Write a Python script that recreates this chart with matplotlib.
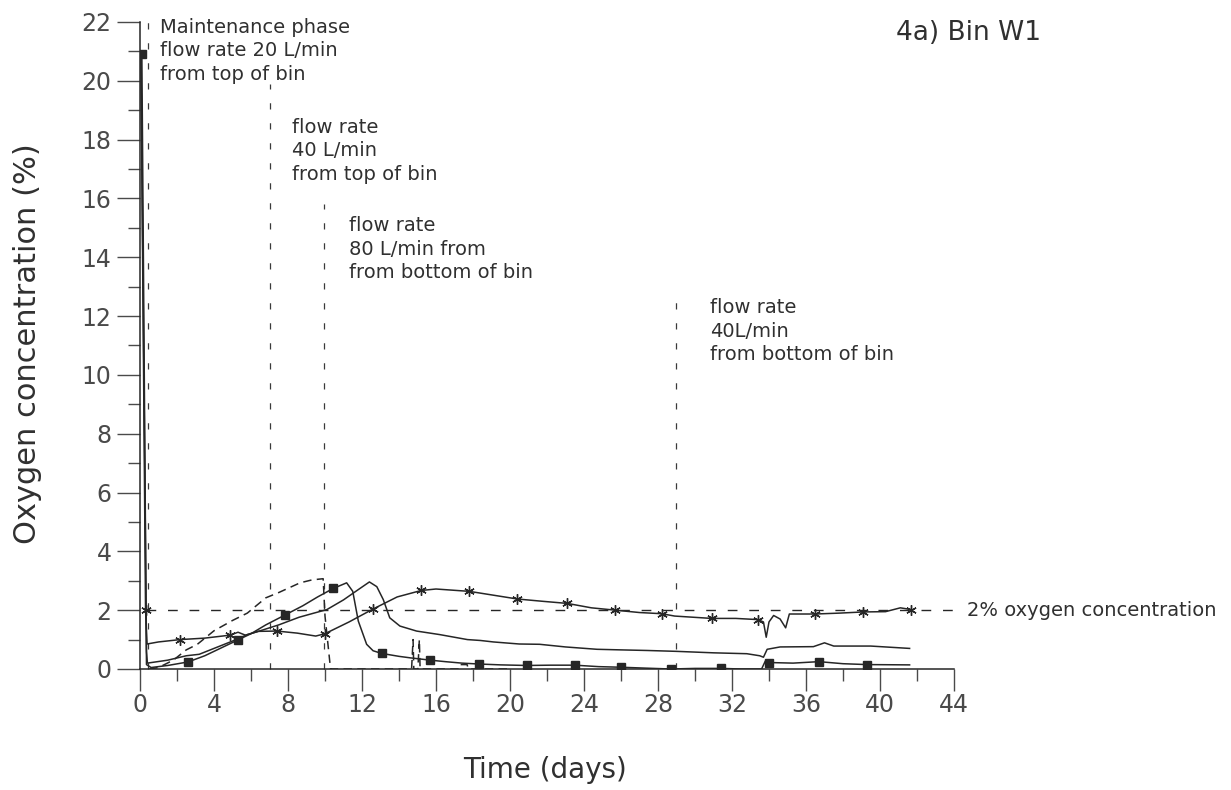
import numpy as np
import matplotlib
matplotlib.use("Agg")
import matplotlib.pyplot as plt

plt.rcParams['font.family'] = ['DejaVu Sans']

# ---------------- data ----------------
# Series with asterisk markers
ast_days = [0.05, 0.30, 0.38, 1.0, 2.17, 3.5, 4.86, 5.3, 5.7, 6.4, 7.4, 8.5, 9.5, 10.0,
            11.3, 12.6, 13.9, 15.2, 16.0, 17.8, 19.0, 20.4, 21.8, 23.1, 24.4, 25.7,
            27.0, 28.2, 28.9, 30.9, 32.2, 33.4, 33.7, 33.85, 34.0, 34.25, 34.6, 34.9,
            35.1, 36.5, 37.8, 39.1, 40.3, 41.1, 41.7]
ast_vals = [20.9, 2.0, 0.85, 0.92, 1.0, 1.05, 1.15, 1.25, 1.15, 1.28, 1.29, 1.22, 1.12, 1.2,
            1.6, 2.04, 2.45, 2.67, 2.72, 2.64, 2.52, 2.38, 2.30, 2.23, 2.08, 2.0,
            1.92, 1.88, 1.80, 1.72, 1.72, 1.68, 1.60, 1.08, 1.60, 1.82, 1.70, 1.40,
            1.87, 1.87, 1.90, 1.94, 1.95, 2.08, 2.02]
ast_marks = [0.30, 2.17, 4.86, 7.4, 10.0, 12.6, 15.2, 17.8, 20.4, 23.1, 25.7, 28.2,
             30.9, 33.4, 36.5, 39.1, 41.7]

# Series with square markers
sq_days = [0.10, 0.35, 0.6, 1.5, 2.6, 3.5, 4.5, 5.3, 6.0, 6.8, 7.85, 8.8, 9.6, 10.45,
           11.17, 11.5, 11.8, 12.25, 12.6, 13.06, 14.0, 14.6, 15.7, 16.5, 17.4, 18.3,
           19.5, 20.9, 22.2, 23.5, 24.8, 26.0, 27.3, 28.7, 30.0, 31.4, 32.5, 33.6,
           33.8, 34.0, 35.3, 36.7, 38.0, 39.3, 41.6]
sq_vals = [20.9, 0.15, 0.05, 0.12, 0.24, 0.45, 0.75, 0.99, 1.2, 1.5, 1.84, 2.15, 2.45, 2.74,
           2.93, 2.64, 1.63, 0.84, 0.62, 0.53, 0.43, 0.38, 0.30, 0.25, 0.20, 0.17,
           0.14, 0.12, 0.13, 0.13, 0.08, 0.06, 0.03, 0.0, 0.02, 0.02, 0.0, 0.0,
           0.27, 0.22, 0.20, 0.25, 0.18, 0.15, 0.14]
sq_marks = [0.10, 2.6, 5.3, 7.85, 10.45, 13.06, 15.7, 18.3, 20.9, 23.5, 26.0, 28.7,
            31.4, 34.0, 36.7, 39.3]

# Plain solid series (no markers)
pl_days = [0.05, 0.35, 0.4, 1.5, 2.5, 3.2, 4.0, 5.0, 5.8, 6.5, 7.5, 8.6, 9.4, 10.1, 11.0,
           11.8, 12.4, 12.8, 13.15, 13.5, 14.05, 14.95, 16.2, 17.7, 18.4, 19.1, 20.5,
           21.6, 23.0, 24.7, 26.0, 27.4, 29.0, 31.0, 32.8, 33.5, 33.7, 33.9, 34.6,
           36.4, 37.0, 37.5, 39.5, 41.6]
pl_vals = [20.9, 0.6, 0.2, 0.3, 0.45, 0.5, 0.7, 0.95, 1.17, 1.3, 1.5, 1.76, 1.9, 2.02, 2.35,
           2.7, 2.96, 2.8, 2.36, 1.74, 1.46, 1.29, 1.17, 1.0, 0.97, 0.92, 0.85,
           0.84, 0.75, 0.67, 0.65, 0.63, 0.60, 0.55, 0.52, 0.45, 0.40, 0.67, 0.75,
           0.76, 0.89, 0.78, 0.78, 0.70]

# Dashed series
da_days = [0.5, 1.0, 1.8, 2.5, 3.1, 4.0, 5.0, 5.8, 6.8, 7.5, 8.65, 9.3, 9.9, 10.0, 10.3,
           14.68, 14.76, 14.8, 15.02, 15.1, 15.14, 17.25, 17.32, 17.68, 17.75, 20.0]
da_vals = [0.0, 0.05, 0.3, 0.65, 0.84, 1.3, 1.65, 1.9, 2.42, 2.6, 2.93, 3.03, 3.07, 1.8, 0.0,
           0.0, 1.0, 0.0, 0.0, 1.0, 0.0, 0.0, 0.15, 0.15, 0.0, 0.0]

# Annotations: vertical marker lines (day, top value) and texts
ann_days = [0.45, 7.05, 9.95, 29.0]
ann_tops = [22.0, 19.9, 15.8, 12.7]
ann_texts = ["Maintenance phase\nflow rate 20 L/min\nfrom top of bin",
             "flow rate\n40 L/min\nfrom top of bin",
             "flow rate\n80 L/min from\nfrom bottom of bin",
             "flow rate\n40L/min\nfrom bottom of bin"]
ann_text_x = [1.1, 8.2, 11.3, 30.8]
ann_text_y = [22.15, 18.75, 15.4, 12.6]

ref_level = 2.0
ref_label = "2% oxygen concentration"
title = "4a) Bin W1"
xlabel = "Time (days)"
ylabel = "Oxygen concentration (%)"
xticks_major = list(range(0, 45, 4))
xticks_minor = list(range(0, 45, 2))
yticks_major = list(range(0, 23, 2))
yticks_minor = list(range(0, 23, 1))

# ---------------- figure ----------------
fig = plt.figure(figsize=(12.31, 7.90), dpi=100)
ax = fig.add_axes([140 / 1231, 1 - 669 / 790, 814 / 1231, 647 / 790])

line_col = '#262626'
text_col = '#303030'
tick_col = '#4a4a4a'

def mark_idx(days, marks):
    return [i for i, d in enumerate(days) if d in marks]

ax.plot(ast_days, ast_vals, color=line_col, lw=1.1, marker=(6, 2, 0), ms=7.5, mew=1.0,
        markevery=mark_idx(ast_days, ast_marks), zorder=3)
ax.plot(sq_days, sq_vals, color=line_col, lw=1.1, marker='s', ms=5.5,
        markevery=mark_idx(sq_days, sq_marks), zorder=3)
ax.plot(pl_days, pl_vals, color=line_col, lw=1.1, zorder=3)
ax.plot(da_days, da_vals, color=line_col, lw=1.1, dashes=(5.5, 3.5), zorder=3)

# 2% reference line
ax.plot([0.3, 44.4], [ref_level, ref_level], color=line_col, lw=1.0, dashes=(7, 8.5),
        clip_on=False, zorder=2)
ax.text(44.7, ref_level, ref_label, ha='left', va='center', fontsize=14,
        color=text_col, clip_on=False)

# vertical annotation lines and texts
for d, top in zip(ann_days, ann_tops):
    ax.plot([d, d], [0, top], color='#3a3a3a', lw=0.9, dashes=(5, 11), zorder=1,
            clip_on=False)
for tx, ty, t in zip(ann_text_x, ann_text_y, ann_texts):
    ax.text(tx, ty, t, ha='left', va='top', fontsize=14, color=text_col,
            linespacing=1.3, clip_on=False)

ax.text(1.0175, 0.983, title, transform=ax.transAxes, ha='center', va='center',
        fontsize=19, color=text_col)

# axes styling
ax.set_xlim(0, 44)
ax.set_ylim(0, 22)
for s in ['top', 'right']:
    ax.spines[s].set_visible(False)
for s in ['left', 'bottom']:
    ax.spines[s].set_color(line_col)
    ax.spines[s].set_linewidth(1.1)

ax.set_xticks(xticks_major)
ax.set_xticks(xticks_minor, minor=True)
ax.set_yticks(yticks_major)
ax.set_yticks(yticks_minor, minor=True)
ax.tick_params(axis='x', which='major', direction='out', length=15.5, width=1.0,
               pad=2, labelsize=17, colors=tick_col)
ax.tick_params(axis='x', which='minor', direction='out', length=8.5, width=1.0,
               colors=tick_col)
ax.tick_params(axis='y', which='major', direction='out', length=16.5, width=1.0,
               pad=4, labelsize=17, colors=tick_col)
ax.tick_params(axis='y', which='minor', direction='out', length=8.5, width=1.0,
               colors=tick_col)

ax.set_xlabel(xlabel, fontsize=20, color=text_col, va='center')
ax.xaxis.set_label_coords((545 - 140) / 814, (669 - 770) / 647)
ax.set_ylabel(ylabel, fontsize=22, color=text_col, va='center')
ax.yaxis.set_label_coords((28 - 140) / 814, (669 - 344) / 647)

fig.savefig("out.png", dpi=100)
